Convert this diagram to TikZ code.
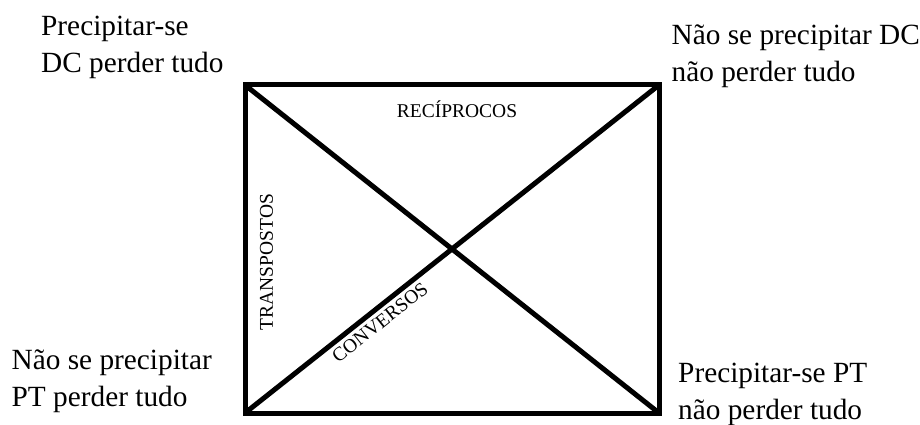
\documentclass[tikz,border=0pt]{standalone}
\usepackage{fontspec}
\setmainfont{Liberation Serif}
\begin{document}
\begin{tikzpicture}[x=1pt,y=-1pt,
  frame/.style={draw=black,line width=5pt},
  diag/.style={draw=black,line width=5pt},
  corner/.style={inner sep=0pt,align=left,anchor=base west,font=\fontsize{29.3}{37}\selectfont},
  small/.style={inner sep=0pt,font=\fontsize{19.5}{22}\selectfont}]
\useasboundingbox (0,0) rectangle (920,425);
\coordinate (tl) at (245,85);
\coordinate (tr) at (659,85);
\coordinate (br) at (659,413);
\coordinate (bl) at (245,413);
\draw[frame] (tl) -- (tr) -- (br) -- (bl) -- cycle;
\draw[diag] (tl) -- (br);
\draw[diag] (bl) -- (tr);
\node[small] (rec) at (457,109) {RECÍPROCOS};
\node[small,rotate=90] (tra) at (266.5,262) {TRANSPOSTOS};
\node[small,rotate=38.4] (con) at (380,322.5) {CONVERSOS};
\node[corner] (ctl) at (41,73) {Precipitar-se\\DC perder tudo};
\node[corner] (ctr) at (671.5,82) {Não se precipitar DC\\não perder tudo};
\node[corner] (cbl) at (11.5,406) {Não se precipitar\\PT perder tudo};
\node[corner] (cbr) at (678,419.5) {Precipitar-se PT\\não perder tudo};
\end{tikzpicture}
\end{document}
